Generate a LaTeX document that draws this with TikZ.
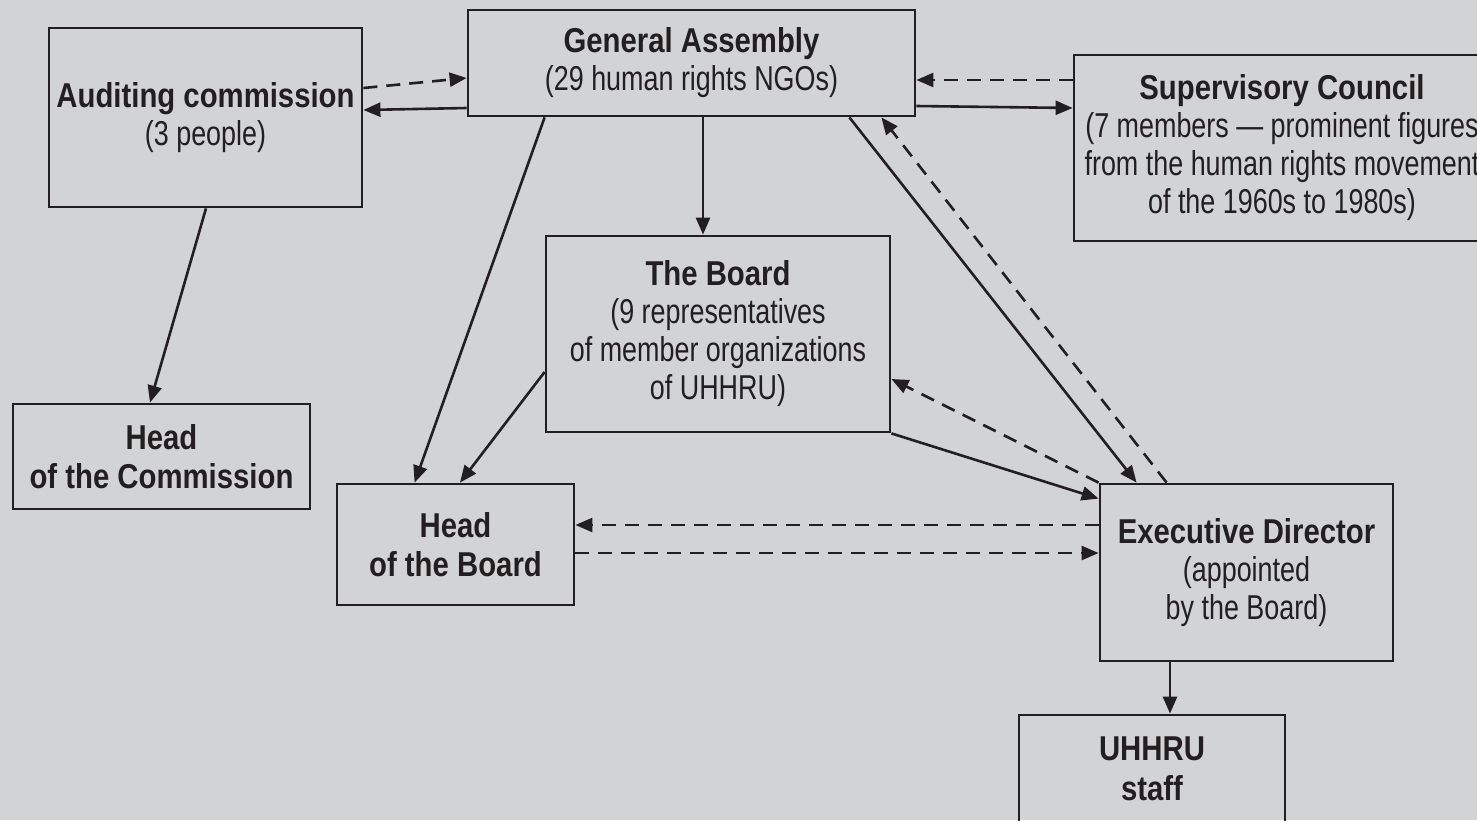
\documentclass[tikz,border=0pt]{standalone}
\usepackage{fontspec}
\setmainfont{Liberation Sans}[FakeStretch=0.78, BoldFeatures={FakeStretch=0.85}]
\usetikzlibrary{arrows.meta,calc}
\definecolor{bg}{HTML}{D1D3D4}
\definecolor{lc}{HTML}{231F20}
\begin{document}
\begin{tikzpicture}[x=1pt,y=-1pt,
  box/.style={draw=lc, line width=2.8pt, inner sep=0pt, align=center, text=lc,
    font=\fontsize{34.5}{38}\selectfont},
  conn/.style={draw=lc, line width=2.6pt, -{Triangle[length=17pt,width=14pt]}},
  dconn/.style={conn, dash pattern=on 14pt off 9pt}]
\fill[bg] (0,0) rectangle (1477,820);
\useasboundingbox (0,0) rectangle (1477,820);
\clip (0,0) rectangle (1477,820);
\node[box, minimum width=313pt, minimum height=179pt] (aud) at (205.5,117.5) {\textbf{Auditing commission}\\(3 people)};
\node[box, minimum width=447pt, minimum height=106pt] (ga) at (691.5,63) {\textbf{General Assembly}\\(29 human rights NGOs)};
\node[box, minimum width=416pt, minimum height=186pt] (sup) at (1282,148) {\textbf{Supervisory Council}\\(7 members — prominent figures\\from the human rights movement\\of the 1960s to 1980s)};
\node[box, minimum width=344pt, minimum height=196pt] (board) at (718,334) {\textbf{The Board}\\(9 representatives\\of member organizations\\of UHHRU)};
\node[box, minimum width=297pt, minimum height=105pt] (hoc) at (161.5,456.5) {\textbf{Head}\\[1.5pt]\textbf{of the Commission}};
\node[box, minimum width=237pt, minimum height=121pt] (hob) at (455.5,544.5) {\textbf{Head}\\[1.5pt]\textbf{of the Board}};
\node[box, minimum width=293pt, minimum height=177pt] (exec) at (1246.5,572.5) {\textbf{Executive Director}\\(appointed\\by the Board)};
\node[box, minimum width=266pt, minimum height=108pt] (staff) at (1152,769) {\textbf{UHHRU}\\[1.5pt]\textbf{staff}};
% connectors
\draw[dconn] ($(aud.east)+(0,-29.5)$) -- ($(ga.west)+(0,15)$);
\draw[conn] ($(ga.west)+(0,45)$) -- ($(aud.east)+(0,-7.5)$);
\draw[dconn] ($(sup.west)+(0,-68)$) -- ($(ga.east)+(0,17)$);
\draw[conn] ($(ga.east)+(0,43)$) -- ($(sup.west)+(0,-40)$);
\draw[conn] ($(ga.south)+(11.5,0)$) -- ($(board.north)+(-15,0)$);
\draw[conn] ($(ga.south west)+(78,0)$) -- ($(hob.north west)+(79,0)$);
\draw[conn] ($(aud.south)+(0.5,0)$) -- ($(hoc.north)+(-11.5,0)$);
\draw[conn] ($(board.west)+(0,38)$) -- ($(hob.north)+(4.5,0)$);
\draw[conn] (board.south east) -- ($(exec.north west)+(0,16)$);
\draw[conn] ($(ga.south east)+(-67,0)$) -- ($(exec.north west)+(38,0)$);
\draw[dconn] ($(exec.north west)+(68,0)$) -- ($(ga.south east)+(-35,0)$);
\draw[dconn] (exec.north west) -- ($(board.east)+(0,45)$);
\draw[dconn] ($(exec.west)+(0,-47.5)$) -- ($(hob.east)+(0,-19.5)$);
\draw[dconn] ($(hob.east)+(0,8.5)$) -- ($(exec.west)+(0,-19.5)$);
\draw[conn] ($(exec.south)+(-76.5,0)$) -- ($(staff.north)+(18,0)$);
\end{tikzpicture}
\end{document}
